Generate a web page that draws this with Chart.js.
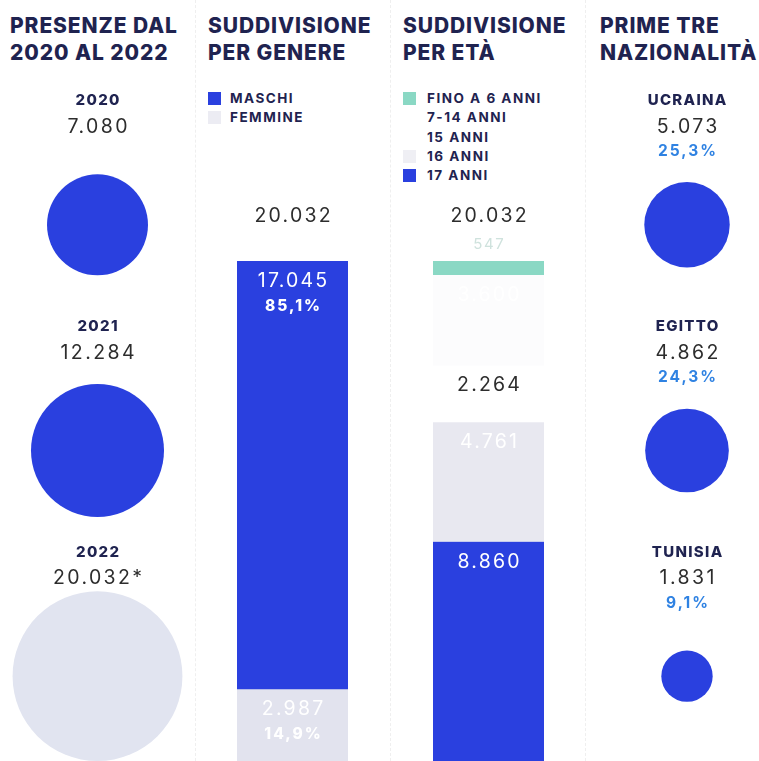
<!DOCTYPE html>
<html>
<head>
<meta charset="utf-8">
<script src="https://cdn.jsdelivr.net/npm/chart.js@4.4.1/dist/chart.umd.min.js"></script>
<style>
html,body{margin:0;padding:0;background:#fff;overflow:hidden;width:759px;height:761px}
#page{position:relative;width:759px;height:761px;overflow:hidden;font-family:Inter,"Open Sans",sans-serif;background:#fff}
.title{position:absolute;top:12px;font-weight:800;font-size:21px;line-height:27px;color:#1f2350;white-space:nowrap;letter-spacing:0.9px}
.legend{position:absolute;top:89px;font-weight:700;font-size:13.5px;line-height:19px;color:#1f2350;white-space:nowrap;letter-spacing:1.5px}
.legend .row{display:flex;align-items:center;height:19.3px}
.legend .sw{width:13px;height:13px;flex:none}
canvas{position:absolute}
.sep{position:absolute;top:0;width:0;height:761px;border-left:1px dashed #efefef}
</style>
</head>
<body>
<div id="page">
  <div class="sep" style="left:195px"></div>
  <div class="sep" style="left:390px"></div>
  <div class="sep" style="left:585px"></div>

  <div class="title" style="left:10px">PRESENZE DAL<br>2020 AL 2022</div>
  <div class="title" style="left:208px">SUDDIVISIONE<br>PER GENERE</div>
  <div class="title" style="left:403px">SUDDIVISIONE<br>PER ETÀ</div>
  <div class="title" style="left:600px">PRIME TRE<br>NAZIONALITÀ</div>

  <div class="legend" id="legGender" style="left:208px"></div>
  <div class="legend" id="legAge" style="left:403px"></div>

  <canvas id="cYears" width="195" height="800" style="left:0;top:0"></canvas>
  <canvas id="cGender" width="195" height="764" style="left:195px;top:0"></canvas>
  <canvas id="cAge" width="195" height="764" style="left:390px;top:0"></canvas>
  <canvas id="cCountries" width="174" height="800" style="left:585px;top:0"></canvas>
</div>
<script>
// ---------- DATA ----------
const years = ['2020', '2021', '2022'];
const presences = [7080, 12284, 20032];
const yearNotes = ['', '', '*'];

const genderCategories = ['MASCHI', 'FEMMINE'];
const genderValues = [17045, 2987];

const ageCategories = ['FINO A 6 ANNI', '7-14 ANNI', '15 ANNI', '16 ANNI', '17 ANNI'];
const ageValues = [547, 3600, 2264, 4761, 8860];

const countries = ['UCRAINA', 'EGITTO', 'TUNISIA'];
const countryValues = [5073, 4862, 1831];

// ---------- STYLE ----------
const BLUE = '#2a40df';
const NAVY = '#1f2350';
const INK = '#2d2d2d';
const PCT_COLOR = '#2f82e2';
const FONT = 'Inter, "Open Sans", sans-serif';
const R_K = 0.6;

const yearColors = [BLUE, BLUE, '#e1e4f0'];
const genderColors = [BLUE, '#e2e3ee'];
const genderLegendColors = [BLUE, '#ececf3'];
const genderLabelColors = ['#ffffff', '#ffffff'];
const ageColors = ['#8ad8c4', '#fcfcfd', '#ffffff', '#e8e8f0', BLUE];
const ageLegendColors = ['#8ad8c4', '#ffffff', '#ffffff', '#efeff4', BLUE];
const ageLabelColors = ['#cfe2dd', '#ffffff', INK, '#ffffff', '#ffffff'];

const fmt = n => String(n).replace(/\B(?=(\d{3})+(?!\d))/g, '.');
const sum = a => a.reduce((s, v) => s + v, 0);
const pct = (v, t) => (v / t * 100).toFixed(1).replace('.', ',') + '%';

function capText(ctx, str, x, cy, size, weight, color, spacing) {
  ctx.save();
  ctx.font = weight + ' ' + size + 'px ' + FONT;
  ctx.fillStyle = color;
  ctx.textAlign = 'center';
  ctx.textBaseline = 'alphabetic';
  let dx = 0;
  if (spacing) { ctx.letterSpacing = spacing + 'px'; dx = spacing / 2; }
  ctx.fillText(str, x + dx, cy + size * 0.364);
  ctx.restore();
}

// ---------- LEGENDS ----------
function buildLegend(id, cats, colors, gap) {
  const el = document.getElementById(id);
  cats.forEach((c, i) => {
    const row = document.createElement('div');
    row.className = 'row';
    const sw = document.createElement('span');
    sw.className = 'sw';
    sw.style.background = colors[i];
    sw.style.marginRight = gap + 'px';
    row.appendChild(sw);
    row.appendChild(document.createTextNode(c));
    el.appendChild(row);
  });
}
buildLegend('legGender', genderCategories, genderLegendColors, 9);
buildLegend('legAge', ageCategories, ageLegendColors, 11);

// ---------- BUBBLE COLUMNS ----------
function bubbleChart(id, cats, values, colors, padLeft, withPct, notes) {
  const total = sum(genderValues);
  const labelsPlugin = {
    id: 'catLabels',
    afterDatasetsDraw(chart) {
      const ctx = chart.ctx;
      const meta = chart.getDatasetMeta(0);
      meta.data.forEach((pt, i) => {
        const x = pt.x;
        const cy = chart.scales.y.getPixelForValue(i);
        capText(ctx, cats[i], x, cy - 125, 15, 800, NAVY, 1.3);
        capText(ctx, fmt(values[i]) + (notes ? notes[i] : ''), x, cy - 99, 19.5, 400, INK, 2.4);
        if (withPct) capText(ctx, pct(values[i], total), x, cy - 74, 15.5, 700, PCT_COLOR, 2);
      });
    }
  };
  return new Chart(document.getElementById(id), {
    type: 'bubble',
    data: {
      labels: cats,
      datasets: [{
        data: cats.map((c, i) => ({ x: 0, y: c, r: R_K * Math.sqrt(values[i]) })),
        backgroundColor: colors,
        borderWidth: 0,
        hoverRadius: 0,
        clip: false
      }]
    },
    options: {
      responsive: false,
      animation: false,
      events: [],
      layout: { autoPadding: false, padding: { top: 112, bottom: 11, left: padLeft, right: 0 } },
      scales: {
        x: { type: 'linear', min: -1, max: 1, display: false },
        y: { type: 'category', labels: cats, offset: true, display: false }
      },
      plugins: { legend: { display: false }, tooltip: { enabled: false } }
    },
    plugins: [labelsPlugin]
  });
}

bubbleChart('cYears', years, presences, yearColors, 0, false, yearNotes);
bubbleChart('cCountries', countries, countryValues, [BLUE, BLUE, BLUE], 30, true, null);

// ---------- STACKED BAR COLUMNS ----------
function stackChart(id, cats, values, colors, labelColors, withPct, padLeft, padRight) {
  const total = sum(values);
  const labelsPlugin = {
    id: 'segLabels',
    afterDatasetsDraw(chart) {
      const ctx = chart.ctx;
      const area = chart.chartArea;
      let cx = 0;
      cats.forEach((c, i) => {
        const el = chart.getDatasetMeta(i).data[0];
        cx = el.x;
        const top = Math.min(el.y, el.base);
        const h = Math.abs(el.base - el.y);
        if (h < 30) {
          capText(ctx, fmt(values[i]), el.x, top - 17, 15, 400, labelColors[i], 1.5);
        } else {
          capText(ctx, fmt(values[i]), el.x, top + 19, 19.5, 400, labelColors[i], 2.2);
          if (withPct) capText(ctx, pct(values[i], total), el.x, top + 44, 15.5, 800, labelColors[i], 2);
        }
      });
      capText(ctx, fmt(total), cx, area.top - 46, 19.5, 400, INK, 2.2);
    }
  };
  return new Chart(document.getElementById(id), {
    type: 'bar',
    data: {
      labels: [''],
      datasets: cats.map((c, i) => ({
        label: c,
        data: [values[i]],
        backgroundColor: colors[i],
        borderWidth: 0,
        barPercentage: 1,
        categoryPercentage: 1
      }))
    },
    options: {
      responsive: false,
      animation: false,
      events: [],
      layout: { autoPadding: false, padding: { top: 261, bottom: 0, left: padLeft, right: padRight } },
      scales: {
        x: { stacked: true, display: false },
        y: { stacked: true, display: false, reverse: true, min: 0, max: total }
      },
      plugins: { legend: { display: false }, tooltip: { enabled: false } }
    },
    plugins: [labelsPlugin]
  });
}

stackChart('cGender', genderCategories, genderValues, genderColors, genderLabelColors, true, 42, 42);
stackChart('cAge', ageCategories, ageValues, ageColors, ageLabelColors, false, 43, 41);
</script>
</body>
</html>
